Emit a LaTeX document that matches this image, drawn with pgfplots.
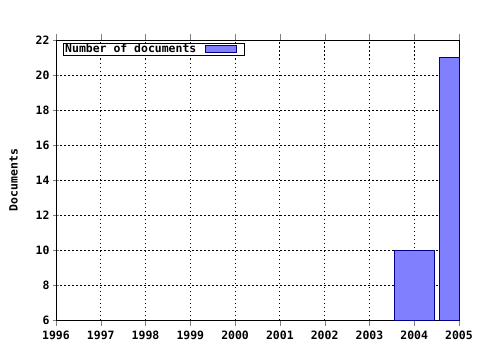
\documentclass[border=0pt]{standalone}
\usepackage{pgfplots}
\pgfplotsset{compat=1.18}
\usepackage{fontspec}
\setmainfont{DejaVu Sans Mono}
\setmonofont{DejaVu Sans Mono}
\definecolor{barfill}{RGB}{128,128,255}
\definecolor{baredge}{RGB}{0,0,140}
\begin{document}
\begin{tikzpicture}[x=1bp,y=1bp]
\path[use as bounding box] (0,0) rectangle (480,350);
\begin{axis}[
  at={(56bp,30bp)}, anchor=south west,
  scale only axis, width=403bp, height=280bp,
  xmin=1996, xmax=2005, ymin=6, ymax=22,
  xtick={1996,...,2005}, ytick={6,8,...,22},
  minor x tick num=3,
  xtick pos=both, ytick pos=left,
  tick align=center,
  major tick length=6bp, minor tick length=3bp,
  /pgf/number format/assume math mode=true,
  x tick label style={/pgf/number format/1000 sep={}},
  tick label style={font=\fontsize{11.5}{13}\bfseries\ttfamily, black},
  xticklabel style={text height=8.5bp, text depth=0bp, anchor=north, yshift=-1bp},
  ylabel={Documents},
  ylabel style={font=\fontsize{11.5}{13}\bfseries\ttfamily, yshift=11bp},
  grid=major,
  major grid style={black, line width=0.8bp, dash pattern=on 1.5bp off 2.5bp},
  axis line style={black, line width=0.8pt},
  ybar, bar width=0.89,
  legend style={at={(rel axis cs:0.017,0.99)}, anchor=north west, draw=black, line width=0.8pt,
    font=\fontsize{11.5}{13}\bfseries\ttfamily, inner sep=0.5pt, legend cell align=left,
    nodes={inner xsep=1.5bp, inner ysep=0.5bp}},
  legend plot pos=right,
  legend image code/.code={\path (0bp,0bp) (45bp,0bp); \draw[#1, line width=0.8pt] (7bp,-3.5bp) rectangle (38bp,3.5bp);},
]
\addplot[fill=barfill, draw=baredge, line width=0.8pt] coordinates {(2004,10) (2005,21)};
\addlegendentry{Number of documents}
\end{axis}
\end{tikzpicture}
\end{document}
